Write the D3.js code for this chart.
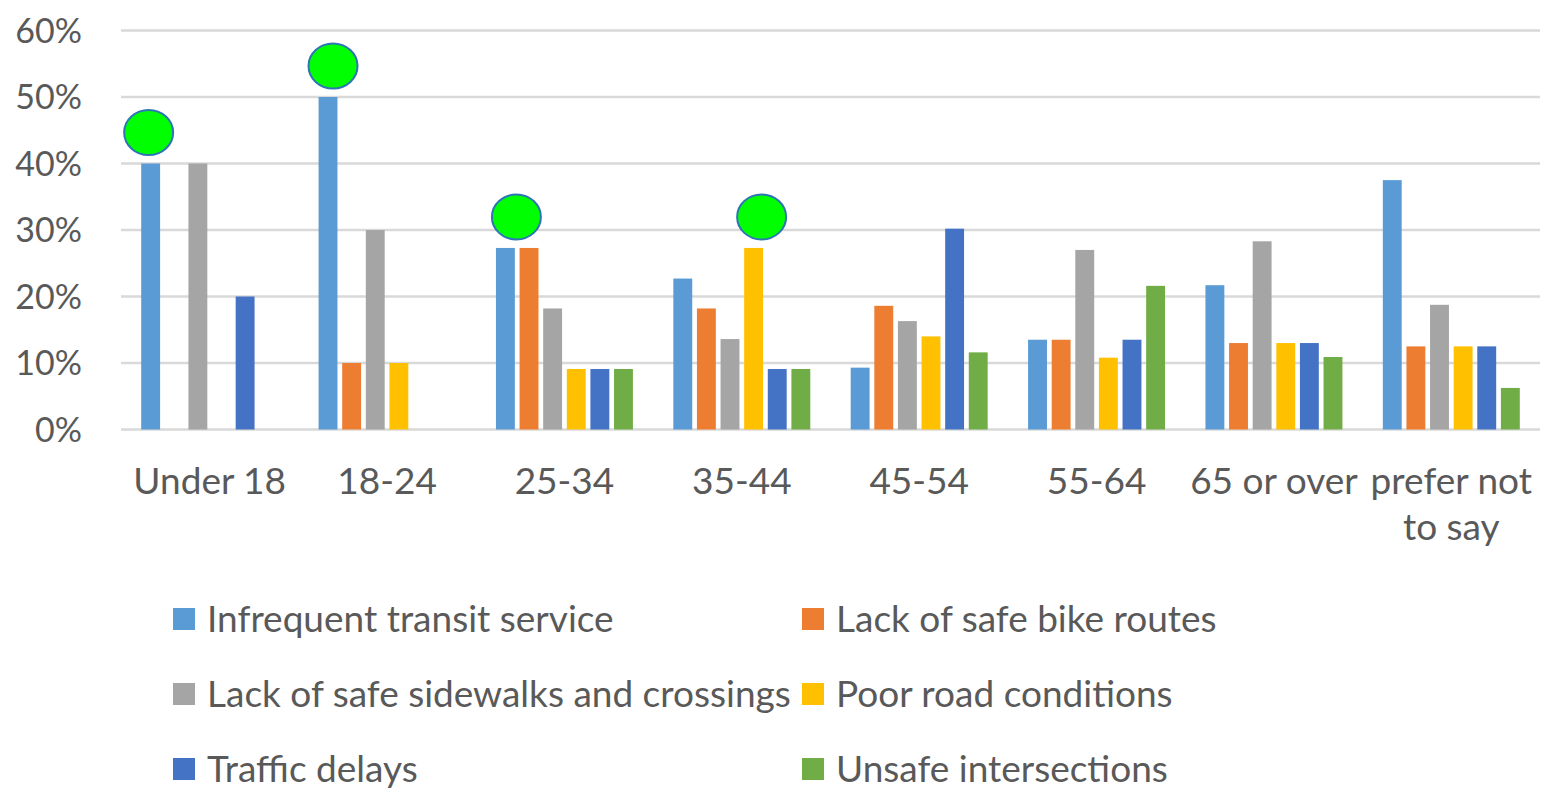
<!DOCTYPE html>
<html>
<head>
<meta charset="utf-8">
<script src="https://cdn.jsdelivr.net/npm/d3@7"></script>
<style>
  body { margin: 0; background: #fff; }
  text { font-family: Lato, "Open Sans", sans-serif; fill: #595959; }
</style>
</head>
<body>
<svg id="chart" width="1554" height="797"></svg>
<script>
// age groups on the x axis
const categories = ["Under 18", "18-24", "25-34", "35-44", "45-54", "55-64", "65 or over", "prefer not to say"];
const seriesNames = ["Infrequent transit service", "Lack of safe bike routes", "Lack of safe sidewalks and crossings",
                     "Poor road conditions", "Traffic delays", "Unsafe intersections"];
const seriesColors = ["#5B9BD5", "#ED7D31", "#A5A5A5", "#FFC000", "#4472C4", "#70AD47"];

// percent of respondents
const infrequentTransit = [40, 50, 27.3, 22.7, 9.3, 13.5, 21.7, 37.5];
const bikeRoutes        = [0, 10, 27.3, 18.2, 18.6, 13.5, 13.0, 12.5];
const sidewalks         = [40, 30, 18.2, 13.6, 16.3, 27.0, 28.3, 18.75];
const roadConditions    = [0, 10, 9.1, 27.3, 14.0, 10.8, 13.0, 12.5];
const trafficDelays     = [20, 0, 9.1, 9.1, 30.2, 13.5, 13.0, 12.5];
const intersections     = [0, 0, 9.1, 9.1, 11.6, 21.6, 10.9, 6.25];

const yTicks = [0, 10, 20, 30, 40, 50, 60];

// green dots drawn over some bars: [category, series index]
const highlighted = [["Under 18", 0], ["18-24", 0], ["25-34", 0], ["35-44", 3]];

const allSeries = [infrequentTransit, bikeRoutes, sidewalks, roadConditions, trafficDelays, intersections];

const svg = d3.select("#chart");

let x0 = d3.scaleBand().domain(categories).range([121, 1540]);
let x1 = d3.scaleBand().domain(d3.range(seriesNames.length))
           .range([20.2, x0.bandwidth() - 20.2]).paddingInner(0.2);
let y = d3.scaleLinear().domain([0, 60]).range([429.5, 30.5]);

// gridlines
svg.append("g").selectAll("line")
   .data(yTicks).enter().append("line")
   .attr("x1", 121).attr("x2", 1540)
   .attr("y1", d => y(d)).attr("y2", d => y(d))
   .attr("stroke", "#d9d9d9").attr("stroke-width", 2.5);

// y axis labels
svg.append("g").selectAll("text")
   .data(yTicks).enter().append("text")
   .attr("x", 82).attr("y", d => y(d))
   .attr("dy", "0.36em")
   .attr("text-anchor", "end")
   .style("font-size", "34px")
   .text(d => d + "%");

// bars
let groups = svg.append("g").selectAll("g")
   .data(categories).enter().append("g")
   .attr("transform", c => "translate(" + x0(c) + ",0)");

groups.selectAll("rect")
   .data((c, ci) => allSeries.map((s, si) => ({ si: si, v: s[ci] })))
   .enter().append("rect")
   .attr("x", d => x1(d.si))
   .attr("width", x1.bandwidth())
   .attr("y", d => y(d.v))
   .attr("height", d => y(0) - y(d.v))
   .attr("fill", d => seriesColors[d.si]);

// category labels, wrapped when too wide for the band
let catLabels = svg.append("g").selectAll("text")
   .data(categories).enter().append("text")
   .attr("x", c => x0(c) + x0.bandwidth() / 2)
   .attr("y", 494)
   .attr("text-anchor", "middle")
   .style("font-size", "37px")
   .text(c => c);

catLabels.each(function(c) {
    let t = d3.select(this);
    if (this.getComputedTextLength() <= x0.bandwidth()) return;
    let words = c.split(" ");
    let line = [];
    t.text(null);
    let tspan = t.append("tspan").attr("x", t.attr("x"));
    words.forEach(w => {
        line.push(w);
        tspan.text(line.join(" "));
        if (tspan.node().getComputedTextLength() > x0.bandwidth() && line.length > 1) {
            line.pop();
            tspan.text(line.join(" "));
            line = [w];
            tspan = t.append("tspan").attr("x", t.attr("x")).attr("dy", 46).text(w);
        }
    });
});

// green highlight dots
const dotNudge = [-2, 5, 11, 8];
svg.append("g").selectAll("ellipse")
   .data(highlighted).enter().append("ellipse")
   .attr("cx", (h, i) => x0(h[0]) + x1(h[1]) + x1.bandwidth() / 2 + dotNudge[i])
   .attr("cy", h => y(allSeries[h[1]][categories.indexOf(h[0])]) - 31)
   .attr("rx", 24.5).attr("ry", 22.5)
   .attr("fill", "#00FF00")
   .attr("stroke", "#2E75B6").attr("stroke-width", 2);

// legend, two columns
let legend = svg.append("g").selectAll("g")
   .data(seriesNames).enter().append("g")
   .attr("transform", (d, i) => "translate(" + (i % 2 ? 802 : 173) + "," + (619 + Math.floor(i / 2) * 75) + ")");

legend.append("rect")
   .attr("x", 0).attr("y", -11)
   .attr("width", 22).attr("height", 22)
   .attr("fill", (d, i) => seriesColors[i]);

legend.append("text")
   .attr("x", 34).attr("y", 0)
   .attr("dy", "0.36em")
   .style("font-size", "37px")
   .text(d => d);
</script>
</body>
</html>
